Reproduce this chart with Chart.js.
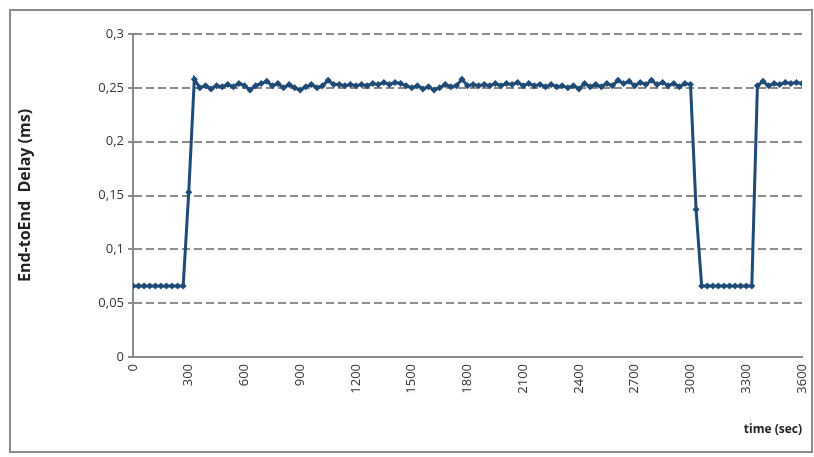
<!DOCTYPE html>
<html>
<head>
<meta charset="utf-8">
<script src="https://cdn.jsdelivr.net/npm/chart.js@4"></script>
<style>
html,body{margin:0;padding:0;background:#fff;}
#wrap{width:814px;height:457px;position:relative;}
</style>
</head>
<body>
<div id="wrap"><canvas id="c" width="814" height="457"></canvas></div>
<script>
// time in seconds (every 30 s)
const timeSec = [
  0,30,60,90,120,150,180,210,240,270,
  300,330,360,390,420,450,480,510,540,570,
  600,630,660,690,720,750,780,810,840,870,
  900,930,960,990,1020,1050,1080,1110,1140,1170,
  1200,1230,1260,1290,1320,1350,1380,1410,1440,1470,
  1500,1530,1560,1590,1620,1650,1680,1710,1740,1770,
  1800,1830,1860,1890,1920,1950,1980,2010,2040,2070,
  2100,2130,2160,2190,2220,2250,2280,2310,2340,2370,
  2400,2430,2460,2490,2520,2550,2580,2610,2640,2670,
  2700,2730,2760,2790,2820,2850,2880,2910,2940,2970,
  3000,3030,3060,3090,3120,3150,3180,3210,3240,3270,
  3300,3330,3360,3390,3420,3450,3480,3510,3540,3570,
  3600
];
// End-to-End delay (ms)
const delayMs = [
  0.066,0.066,0.066,0.066,0.066,0.066,0.066,0.066,0.066,0.066,
  0.153,0.258,0.250,0.252,0.249,0.252,0.251,0.253,0.251,0.254,
  0.252,0.248,0.252,0.254,0.256,0.252,0.254,0.250,0.253,0.250,
  0.248,0.251,0.253,0.250,0.252,0.257,0.253,0.253,0.252,0.253,
  0.252,0.253,0.252,0.254,0.253,0.255,0.253,0.255,0.254,0.252,
  0.250,0.252,0.249,0.251,0.248,0.250,0.253,0.251,0.252,0.258,
  0.252,0.253,0.252,0.253,0.252,0.254,0.252,0.254,0.253,0.255,
  0.252,0.254,0.252,0.253,0.251,0.253,0.251,0.252,0.250,0.252,
  0.249,0.254,0.251,0.253,0.251,0.254,0.252,0.257,0.254,0.256,
  0.252,0.255,0.253,0.257,0.253,0.255,0.252,0.254,0.251,0.254,
  0.253,0.137,0.066,0.066,0.066,0.066,0.066,0.066,0.066,0.066,
  0.066,0.066,0.252,0.256,0.252,0.254,0.253,0.255,0.254,0.255,
  0.254
];
const yTitle = 'End-toEnd  Delay (ms)';
const xTitle = 'time (sec)';

const points = timeSec.map((t, i) => ({x: t, y: delayMs[i]}));

const borderPlugin = {
  id: 'outerBorder',
  beforeDraw(chart) {
    const ctx = chart.ctx;
    ctx.save();
    ctx.fillStyle = '#ffffff';
    ctx.fillRect(0, 0, chart.width, chart.height);
    ctx.strokeStyle = '#8a8a8a';
    ctx.lineWidth = 2;
    ctx.strokeRect(10, 10, 802, 442);
    ctx.restore();
  }
};

const FONT = '"Open Sans", "DejaVu Sans", sans-serif';

new Chart(document.getElementById('c'), {
  type: 'line',
  data: {
    datasets: [{
      data: points,
      borderColor: '#1d4a77',
      backgroundColor: '#1d4a77',
      borderWidth: 3,
      pointStyle: 'rectRot',
      pointRadius: 3.5,
      pointBorderWidth: 0,
      pointBackgroundColor: '#1d4a77',
      tension: 0
    }]
  },
  options: {
    responsive: false,
    animation: false,
    devicePixelRatio: 1,
    layout: {padding: {top: 34, right: 12, left: 0, bottom: 0}},
    plugins: {legend: {display: false}, tooltip: {enabled: false}},
    scales: {
      x: {
        type: 'linear',
        min: 0, max: 3600,
        afterFit(s) { s.height = 100; s.paddingRight = 0; s.paddingLeft = 0; },
        ticks: {
          stepSize: 300,
          minRotation: 90, maxRotation: 90,
          color: '#333',
          font: {family: FONT, size: 13},
          padding: 7,
          callback: v => String(v)
        },
        grid: {display: false, drawTicks: false},
        border: {display: true, color: '#8a8a8a', width: 2},
        title: {
          display: true, text: xTitle, align: 'end',
          color: '#222', font: {family: FONT, size: 12, weight: 'bold'},
          padding: {top: 0, bottom: 20}
        }
      },
      y: {
        min: 0, max: 0.3,
        afterFit(s) { s.width = 133; },
        ticks: {
          stepSize: 0.05,
          color: '#333',
          font: {family: FONT, size: 13},
          padding: 4,
          callback: v => String(Math.round(v * 100) / 100).replace('.', ',')
        },
        grid: {
          color: c => c.tick.value === 0 ? 'rgba(0,0,0,0)' : '#8a8a8a',
          lineWidth: 2,
          tickLength: 5,
          tickColor: '#8a8a8a'
        },
        border: {display: true, color: '#8a8a8a', width: 2, dash: [8, 4]},
        title: {
          display: true, text: yTitle,
          color: '#222', font: {family: FONT, size: 16, weight: 'bold'},
          padding: {top: 16, bottom: 0}
        }
      }
    }
  },
  plugins: [borderPlugin]
});
</script>
</body>
</html>
